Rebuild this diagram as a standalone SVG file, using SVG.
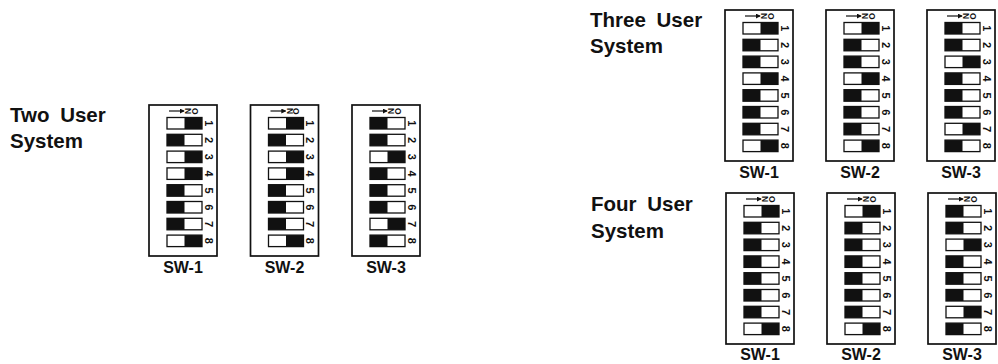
<svg xmlns="http://www.w3.org/2000/svg" width="998" height="364" viewBox="0 0 998 364">
<style>
.title{font-family:"Liberation Sans",Arial,sans-serif;font-weight:bold;font-size:20.5px;fill:#111;word-spacing:5px}
.lbl{font-family:"Liberation Sans",Arial,sans-serif;font-weight:bold;font-size:16px;fill:#111;text-anchor:middle}
.box{fill:none;stroke:#111;stroke-width:1.7}
.sw{fill:#fff;stroke:#111;stroke-width:1.3}
.blk{fill:#111}
.dg{font-family:"Liberation Sans",Arial,sans-serif;font-weight:bold;font-size:11px;fill:#111;text-anchor:middle}
.onl{font-family:"Liberation Sans",Arial,sans-serif;font-weight:bold;font-size:8.5px;fill:#111}
.arr{stroke:#111;stroke-width:1.2;fill:none}
</style>
<defs>
<marker id="ah" viewBox="0 0 6 6" refX="5" refY="3" markerWidth="5" markerHeight="5" orient="auto" markerUnits="userSpaceOnUse"><path d="M0,0 L6,3 L0,6 z" fill="#111"/></marker>
<g id="frame">
<rect class="box" x="0" y="0" width="68" height="151"/>
<line class="arr" x1="20" y1="6" x2="35" y2="6" marker-end="url(#ah)"/>
<rect class="sw" x="18" y="12.5" width="35" height="11.5"/>
<rect class="sw" x="18" y="29.3" width="35" height="11.5"/>
<rect class="sw" x="18" y="46.1" width="35" height="11.5"/>
<rect class="sw" x="18" y="62.9" width="35" height="11.5"/>
<rect class="sw" x="18" y="79.7" width="35" height="11.5"/>
<rect class="sw" x="18" y="96.5" width="35" height="11.5"/>
<rect class="sw" x="18" y="113.3" width="35" height="11.5"/>
<rect class="sw" x="18" y="130.1" width="35" height="11.5"/>
</g>
<rect id="L1" class="blk" x="18" y="12.5" width="17.5" height="11.5"/>
<rect id="L2" class="blk" x="18" y="29.3" width="17.5" height="11.5"/>
<rect id="L3" class="blk" x="18" y="46.1" width="17.5" height="11.5"/>
<rect id="L4" class="blk" x="18" y="62.9" width="17.5" height="11.5"/>
<rect id="L5" class="blk" x="18" y="79.7" width="17.5" height="11.5"/>
<rect id="L6" class="blk" x="18" y="96.5" width="17.5" height="11.5"/>
<rect id="L7" class="blk" x="18" y="113.3" width="17.5" height="11.5"/>
<rect id="L8" class="blk" x="18" y="130.1" width="17.5" height="11.5"/>
<rect id="R1" class="blk" x="35.5" y="12.5" width="17.5" height="11.5"/>
<rect id="R2" class="blk" x="35.5" y="29.3" width="17.5" height="11.5"/>
<rect id="R3" class="blk" x="35.5" y="46.1" width="17.5" height="11.5"/>
<rect id="R4" class="blk" x="35.5" y="62.9" width="17.5" height="11.5"/>
<rect id="R5" class="blk" x="35.5" y="79.7" width="17.5" height="11.5"/>
<rect id="R6" class="blk" x="35.5" y="96.5" width="17.5" height="11.5"/>
<rect id="R7" class="blk" x="35.5" y="113.3" width="17.5" height="11.5"/>
<rect id="R8" class="blk" x="35.5" y="130.1" width="17.5" height="11.5"/>
</defs>

<rect width="998" height="364" fill="#fff"/>

<g id="titles">
<text class="title" x="10" y="121.7">Two User</text>
<text class="title" x="10" y="148.3">System</text>
<text class="title" x="590" y="26.7">Three User</text>
<text class="title" x="590" y="53.3">System</text>
<text class="title" x="591" y="211">Four User</text>
<text class="title" x="591" y="238">System</text>
</g>

<g id="connectors"></g>

<g id="two-sw1" transform="translate(149,105)">
<use href="#frame"/>
<use href="#R1"/><use href="#L2"/><use href="#R3"/><use href="#R4"/><use href="#L5"/><use href="#L6"/><use href="#L7"/><use href="#R8"/>
<text class="onl" x="42.5 36" y="3" rotate="90">ON</text>
<text class="dg" transform="translate(55.8,18.25) rotate(90)">1</text>
<text class="dg" transform="translate(55.8,35.05) rotate(90)">2</text>
<text class="dg" transform="translate(55.8,51.85) rotate(90)">3</text>
<text class="dg" transform="translate(55.8,68.65) rotate(90)">4</text>
<text class="dg" transform="translate(55.8,85.45) rotate(90)">5</text>
<text class="dg" transform="translate(55.8,102.25) rotate(90)">6</text>
<text class="dg" transform="translate(55.8,119.05) rotate(90)">7</text>
<text class="dg" transform="translate(55.8,135.85) rotate(90)">8</text>
<text class="lbl" x="34" y="168">SW-1</text>
</g>
<g id="two-sw2" transform="translate(250.5,105)">
<use href="#frame"/>
<use href="#R1"/><use href="#L2"/><use href="#R3"/><use href="#R4"/><use href="#L5"/><use href="#L6"/><use href="#L7"/><use href="#R8"/>
<text class="onl" x="42.5 36" y="3" rotate="90">ON</text>
<text class="dg" transform="translate(55.8,18.25) rotate(90)">1</text>
<text class="dg" transform="translate(55.8,35.05) rotate(90)">2</text>
<text class="dg" transform="translate(55.8,51.85) rotate(90)">3</text>
<text class="dg" transform="translate(55.8,68.65) rotate(90)">4</text>
<text class="dg" transform="translate(55.8,85.45) rotate(90)">5</text>
<text class="dg" transform="translate(55.8,102.25) rotate(90)">6</text>
<text class="dg" transform="translate(55.8,119.05) rotate(90)">7</text>
<text class="dg" transform="translate(55.8,135.85) rotate(90)">8</text>
<text class="lbl" x="34" y="168">SW-2</text>
</g>
<g id="two-sw3" transform="translate(352,105)">
<use href="#frame"/>
<use href="#L1"/><use href="#L2"/><use href="#R3"/><use href="#L4"/><use href="#L5"/><use href="#L6"/><use href="#R7"/><use href="#L8"/>
<text class="onl" x="42.5 36" y="3" rotate="90">ON</text>
<text class="dg" transform="translate(55.8,18.25) rotate(90)">1</text>
<text class="dg" transform="translate(55.8,35.05) rotate(90)">2</text>
<text class="dg" transform="translate(55.8,51.85) rotate(90)">3</text>
<text class="dg" transform="translate(55.8,68.65) rotate(90)">4</text>
<text class="dg" transform="translate(55.8,85.45) rotate(90)">5</text>
<text class="dg" transform="translate(55.8,102.25) rotate(90)">6</text>
<text class="dg" transform="translate(55.8,119.05) rotate(90)">7</text>
<text class="dg" transform="translate(55.8,135.85) rotate(90)">8</text>
<text class="lbl" x="34" y="168">SW-3</text>
</g>

<g id="three-sw1" transform="translate(725,10)">
<use href="#frame"/>
<use href="#R1"/><use href="#L2"/><use href="#L3"/><use href="#R4"/><use href="#L5"/><use href="#L6"/><use href="#L7"/><use href="#R8"/>
<text class="onl" x="42.5 36" y="3" rotate="90">ON</text>
<text class="dg" transform="translate(55.8,18.25) rotate(90)">1</text>
<text class="dg" transform="translate(55.8,35.05) rotate(90)">2</text>
<text class="dg" transform="translate(55.8,51.85) rotate(90)">3</text>
<text class="dg" transform="translate(55.8,68.65) rotate(90)">4</text>
<text class="dg" transform="translate(55.8,85.45) rotate(90)">5</text>
<text class="dg" transform="translate(55.8,102.25) rotate(90)">6</text>
<text class="dg" transform="translate(55.8,119.05) rotate(90)">7</text>
<text class="dg" transform="translate(55.8,135.85) rotate(90)">8</text>
<text class="lbl" x="34" y="168">SW-1</text>
</g>
<g id="three-sw2" transform="translate(826,10)">
<use href="#frame"/>
<use href="#R1"/><use href="#L2"/><use href="#L3"/><use href="#R4"/><use href="#L5"/><use href="#L6"/><use href="#L7"/><use href="#R8"/>
<text class="onl" x="42.5 36" y="3" rotate="90">ON</text>
<text class="dg" transform="translate(55.8,18.25) rotate(90)">1</text>
<text class="dg" transform="translate(55.8,35.05) rotate(90)">2</text>
<text class="dg" transform="translate(55.8,51.85) rotate(90)">3</text>
<text class="dg" transform="translate(55.8,68.65) rotate(90)">4</text>
<text class="dg" transform="translate(55.8,85.45) rotate(90)">5</text>
<text class="dg" transform="translate(55.8,102.25) rotate(90)">6</text>
<text class="dg" transform="translate(55.8,119.05) rotate(90)">7</text>
<text class="dg" transform="translate(55.8,135.85) rotate(90)">8</text>
<text class="lbl" x="34" y="168">SW-2</text>
</g>
<g id="three-sw3" transform="translate(927,10)">
<use href="#frame"/>
<use href="#L1"/><use href="#L2"/><use href="#R3"/><use href="#L4"/><use href="#L5"/><use href="#L6"/><use href="#R7"/><use href="#L8"/>
<text class="onl" x="42.5 36" y="3" rotate="90">ON</text>
<text class="dg" transform="translate(55.8,18.25) rotate(90)">1</text>
<text class="dg" transform="translate(55.8,35.05) rotate(90)">2</text>
<text class="dg" transform="translate(55.8,51.85) rotate(90)">3</text>
<text class="dg" transform="translate(55.8,68.65) rotate(90)">4</text>
<text class="dg" transform="translate(55.8,85.45) rotate(90)">5</text>
<text class="dg" transform="translate(55.8,102.25) rotate(90)">6</text>
<text class="dg" transform="translate(55.8,119.05) rotate(90)">7</text>
<text class="dg" transform="translate(55.8,135.85) rotate(90)">8</text>
<text class="lbl" x="34" y="168">SW-3</text>
</g>

<g id="four-sw1" transform="translate(726,193)">
<use href="#frame"/>
<use href="#R1"/><use href="#L2"/><use href="#L3"/><use href="#L4"/><use href="#L5"/><use href="#L6"/><use href="#L7"/><use href="#R8"/>
<text class="onl" x="42.5 36" y="3" rotate="90">ON</text>
<text class="dg" transform="translate(55.8,18.25) rotate(90)">1</text>
<text class="dg" transform="translate(55.8,35.05) rotate(90)">2</text>
<text class="dg" transform="translate(55.8,51.85) rotate(90)">3</text>
<text class="dg" transform="translate(55.8,68.65) rotate(90)">4</text>
<text class="dg" transform="translate(55.8,85.45) rotate(90)">5</text>
<text class="dg" transform="translate(55.8,102.25) rotate(90)">6</text>
<text class="dg" transform="translate(55.8,119.05) rotate(90)">7</text>
<text class="dg" transform="translate(55.8,135.85) rotate(90)">8</text>
<text class="lbl" x="34" y="167">SW-1</text>
</g>
<g id="four-sw2" transform="translate(827,193)">
<use href="#frame"/>
<use href="#R1"/><use href="#L2"/><use href="#L3"/><use href="#L4"/><use href="#L5"/><use href="#L6"/><use href="#L7"/><use href="#R8"/>
<text class="onl" x="42.5 36" y="3" rotate="90">ON</text>
<text class="dg" transform="translate(55.8,18.25) rotate(90)">1</text>
<text class="dg" transform="translate(55.8,35.05) rotate(90)">2</text>
<text class="dg" transform="translate(55.8,51.85) rotate(90)">3</text>
<text class="dg" transform="translate(55.8,68.65) rotate(90)">4</text>
<text class="dg" transform="translate(55.8,85.45) rotate(90)">5</text>
<text class="dg" transform="translate(55.8,102.25) rotate(90)">6</text>
<text class="dg" transform="translate(55.8,119.05) rotate(90)">7</text>
<text class="dg" transform="translate(55.8,135.85) rotate(90)">8</text>
<text class="lbl" x="34" y="167">SW-2</text>
</g>
<g id="four-sw3" transform="translate(928,193)">
<use href="#frame"/>
<use href="#L1"/><use href="#L2"/><use href="#R3"/><use href="#L4"/><use href="#L5"/><use href="#L6"/><use href="#R7"/><use href="#L8"/>
<text class="onl" x="42.5 36" y="3" rotate="90">ON</text>
<text class="dg" transform="translate(55.8,18.25) rotate(90)">1</text>
<text class="dg" transform="translate(55.8,35.05) rotate(90)">2</text>
<text class="dg" transform="translate(55.8,51.85) rotate(90)">3</text>
<text class="dg" transform="translate(55.8,68.65) rotate(90)">4</text>
<text class="dg" transform="translate(55.8,85.45) rotate(90)">5</text>
<text class="dg" transform="translate(55.8,102.25) rotate(90)">6</text>
<text class="dg" transform="translate(55.8,119.05) rotate(90)">7</text>
<text class="dg" transform="translate(55.8,135.85) rotate(90)">8</text>
<text class="lbl" x="34" y="167">SW-3</text>
</g>
</svg>
